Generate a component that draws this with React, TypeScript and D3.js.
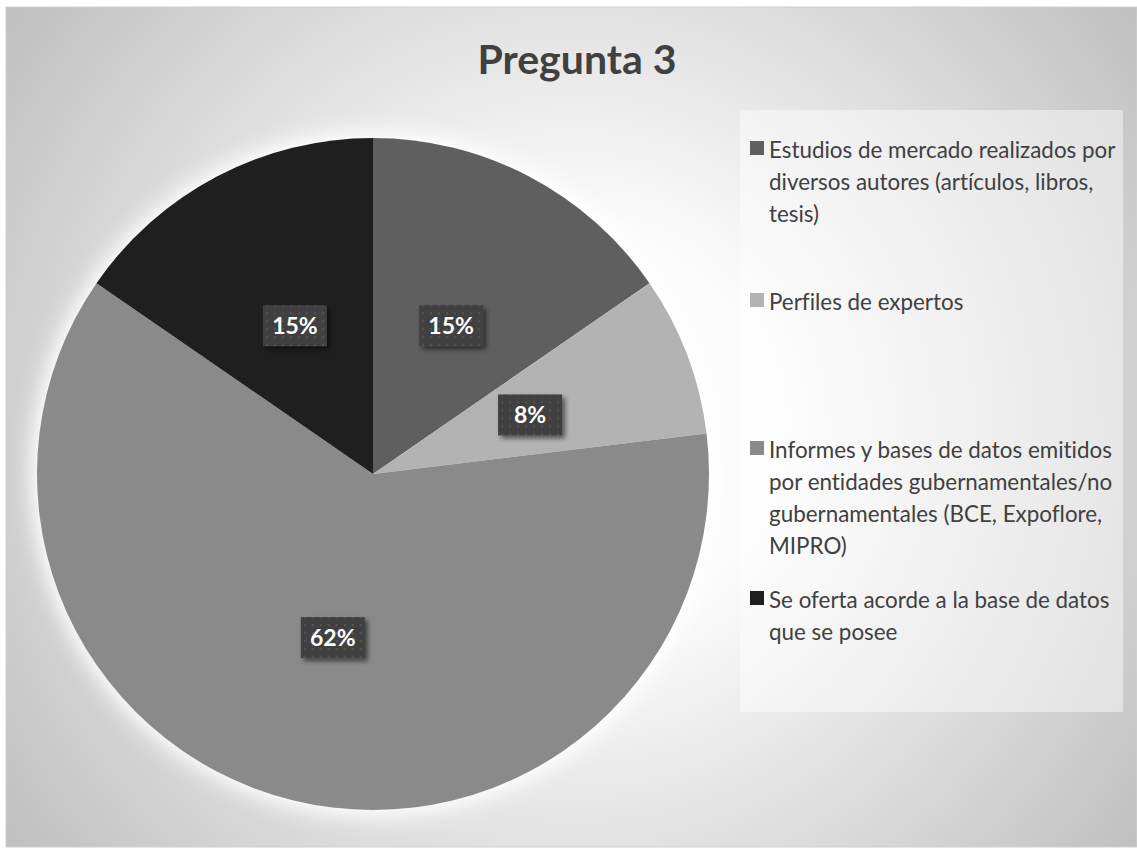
import React from "react";
import * as d3 from "d3";

const categories = [
  "Estudios de mercado realizados por diversos autores (artículos, libros, tesis)",
  "Perfiles de expertos",
  "Informes y bases de datos emitidos por entidades gubernamentales/no gubernamentales (BCE, Expoflore, MIPRO)",
  "Se oferta acorde a la base de datos que se posee",
];
const legendLines = [
  ["Estudios de mercado realizados por", "diversos autores (artículos, libros,", "tesis)"],
  ["Perfiles de expertos"],
  ["Informes y bases de datos emitidos", "por entidades gubernamentales/no", "gubernamentales (BCE, Expoflore,", "MIPRO)"],
  ["Se oferta acorde a la base de datos", "que se posee"],
];
const values = [2, 1, 8, 2];
const colors = ["#5f5f5f", "#b3b3b3", "#8a8a8a", "#1f1f1f"];
const title = "Pregunta 3";

const W = 1137;
const H = 854;
const cx = 373;
const cy = 474;
const R = 336;

export default function App() {
  const total = d3.sum(values);
  const pie = d3.pie<number>().sort(null).value((d) => d)(values);
  const arc = d3.arc<d3.PieArcDatum<number>>().innerRadius(0).outerRadius(R);
  const labelArc = d3.arc<d3.PieArcDatum<number>>().innerRadius(0).outerRadius(R);

  const legendTops = [150, 302, 450, 600];
  const lineH = 32;
  const font = "Lato, 'Open Sans', sans-serif";
  const noLig = { fontVariantLigatures: "none", fontFeatureSettings: "'liga' 0, 'clig' 0" } as React.CSSProperties;

  return (
    <svg width={W} height={H} style={{ position: "absolute", left: 0, top: 0 }}>
      <defs>
        <radialGradient id="bg" gradientUnits="userSpaceOnUse" cx={575} cy={430} r={700}>
          <stop offset="0" stopColor="#ffffff" />
          <stop offset="0.3" stopColor="#fbfbfb" />
          <stop offset="1" stopColor="#c0c0c0" />
        </radialGradient>
        <filter id="halo" x="-20%" y="-20%" width="140%" height="140%">
          <feGaussianBlur stdDeviation="10" />
        </filter>
        <filter id="shadow" x="-30%" y="-30%" width="160%" height="160%">
          <feGaussianBlur in="SourceAlpha" stdDeviation="2.5" />
          <feOffset dx="3" dy="3" result="b" />
          <feComponentTransfer>
            <feFuncA type="linear" slope="0.55" />
          </feComponentTransfer>
          <feMerge>
            <feMergeNode />
            <feMergeNode in="SourceGraphic" />
          </feMerge>
        </filter>
        <pattern id="dots" width="8" height="8" patternUnits="userSpaceOnUse">
          <rect width="8" height="8" fill="#404040" />
          <rect x="3" y="3" width="2" height="2" fill="#555555" />
        </pattern>
      </defs>
      <rect x={0} y={0} width={W} height={H} fill="#ffffff" />
      <rect x={6} y={7} width={W - 6} height={H - 14} fill="url(#bg)" stroke="#d0d0d0" strokeWidth={1} />
      <text
        x={577}
        y={74}
        textAnchor="middle"
        fontFamily={font}
        fontWeight="bold"
        fontSize={41}
        fill="#404040"
      >
        {title}
      </text>
      <rect x={740} y={110} width={383} height={602} fill="#ffffff" fillOpacity={0.45} />
      <circle cx={cx} cy={cy} r={R + 6} fill="#ffffff" filter="url(#halo)" />
      <g transform={`translate(${cx},${cy})`}>
        {pie.map((p, i) => (
          <path key={i} d={arc(p) || ""} fill={colors[i]} />
        ))}
        {pie.map((p, i) => {
          const [lx, ly] = labelArc.centroid(p);
          const pct = Math.round((values[i] / total) * 100) + "%";
          return (
            <g key={"l" + i} transform={`translate(${lx},${ly})`}>
              <rect x={-32} y={-20} width={64} height={41} fill="url(#dots)" filter="url(#shadow)" />
              <text
                x={0}
                y={8.5}
                textAnchor="middle"
                fontFamily={font}
                fontWeight="bold"
                fontSize={23}
                fill="#ffffff"
              >
                {pct}
              </text>
            </g>
          );
        })}
      </g>
      {categories.map((c, i) => (
        <g key={"lg" + i}>
          <title>{c}</title>
          <rect x={750} y={legendTops[i] - 9} width={14} height={14} fill={colors[i]} />
          {legendLines[i].map((ln, j) => (
            <text
              key={j}
              x={769}
              y={legendTops[i] + 7.5 + j * lineH}
              fontFamily={font}
              fontSize={22.4}
              fill="#404040"
              style={noLig}
            >
              {ln}
            </text>
          ))}
        </g>
      ))}
    </svg>
  );
}
